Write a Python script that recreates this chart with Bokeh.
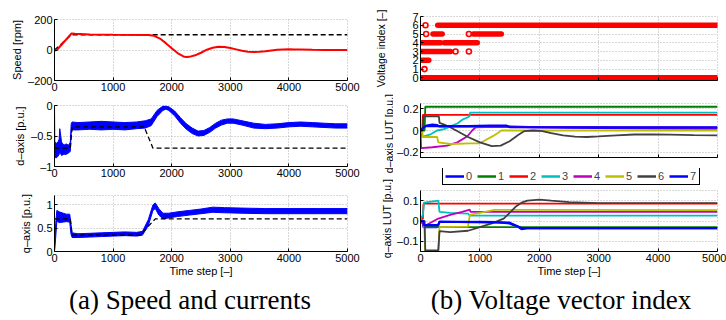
import math
from bokeh.plotting import figure
from bokeh.layouts import row, column
from bokeh.models import Range1d, FixedTicker, Legend, LegendItem, Div, CustomLabelingPolicy, Label
from bokeh.embed import file_html
from bokeh.resources import INLINE

FONT = "Liberation Sans"
SERIF = "Liberation Serif"

# ---------------- data ----------------
x_ticks = [0, 1000, 2000, 3000, 4000, 5000]
x_tick_labels = ["0", "1000", "2000", "3000", "4000", "5000"]

# (a) speed
speed_t = [0, 40, 290, 350, 600, 1000, 1600, 1700, 1800, 1900, 2000, 2100, 2200, 2250, 2300, 2400,
           2500, 2600, 2700, 2800, 2900, 3000, 3100, 3200, 3300, 3400, 3500, 3600, 3700, 3800, 3900,
           4000, 4100, 4200, 4400, 4600, 4800, 5000]
speed_v = [-3, 0, 108, 106, 102, 100, 99, 93, 75, 45, 12, -20, -42, -46, -45, -35,
           -18, 2, 15, 21, 20, 13, 4, -5, -11, -13, -12, -8, -3, 1, 4,
           5, 4, 3, 1, 0, 0, 0]
speed_ref_t = [0, 290, 5000]
speed_ref_v = [0, 100, 100]
speed_ticks = [-200, 0, 200]
speed_tick_labels = ["–200", "0", "200"]

# (a) d-axis current (noisy band: lower / upper envelope)
id_t = [0, 5, 30, 60, 80, 90, 100, 120, 160, 200, 240, 270, 285, 300, 400, 600, 800, 1000, 1200,
        1400, 1550, 1650, 1750, 1850, 1900, 1950, 2050, 2150, 2250, 2350, 2450, 2550, 2650, 2750,
        2850, 2950, 3050, 3200, 3400, 3600, 3800, 4000, 4200, 4400, 4600, 4800, 5000]
id_lo = [-0.8, -0.85, -0.86, -0.83, -0.8, -0.75, -0.78, -0.82, -0.8, -0.8, -0.78, -0.75, -0.45, -0.4,
         -0.4, -0.39, -0.4, -0.39, -0.4, -0.38, -0.37, -0.33, -0.18, -0.08, -0.06, -0.08, -0.17,
         -0.29, -0.39, -0.46, -0.5, -0.49, -0.44, -0.37, -0.32, -0.29, -0.29, -0.32, -0.37, -0.38,
         -0.37, -0.35, -0.34, -0.35, -0.36, -0.37, -0.37]
id_hi = [0.0, -0.6, -0.62, -0.6, -0.55, -0.38, -0.45, -0.6, -0.65, -0.63, -0.65, -0.6, -0.3, -0.27,
         -0.28, -0.27, -0.26, -0.27, -0.28, -0.27, -0.25, -0.22, -0.08, -0.01, -0.01, -0.02, -0.09,
         -0.2, -0.3, -0.37, -0.42, -0.41, -0.36, -0.29, -0.24, -0.22, -0.22, -0.25, -0.29, -0.31,
         -0.3, -0.28, -0.27, -0.28, -0.29, -0.3, -0.3]
id_ref_t = [0, 270, 300, 1530, 1680, 5000]
id_ref_v = [-0.7, -0.7, -0.35, -0.35, -0.7, -0.7]
id_ticks = [-1, -0.5, 0]
id_tick_labels = ["–1", "–0.5", "0"]

# (a) q-axis current
iq_t = [0, 20, 40, 80, 150, 200, 260, 280, 300, 400, 600, 800, 1000, 1200, 1400, 1500, 1600, 1680,
        1720, 1780, 1850, 1950, 2100, 2300, 2500, 2700, 2900, 3200, 3600, 4000, 4500, 5000]
iq_lo = [0.0, 0.3, 0.65, 0.62, 0.63, 0.64, 0.63, 0.38, 0.3, 0.3, 0.31, 0.32, 0.33, 0.34, 0.33, 0.35,
         0.55, 0.88, 0.92, 0.78, 0.7, 0.72, 0.75, 0.78, 0.81, 0.84, 0.83, 0.82, 0.81, 0.81, 0.81, 0.81]
iq_hi = [0.02, 0.6, 0.88, 0.85, 0.82, 0.8, 0.8, 0.6, 0.4, 0.38, 0.39, 0.4, 0.41, 0.42, 0.41, 0.43,
         0.68, 1.0, 1.04, 0.92, 0.82, 0.82, 0.85, 0.88, 0.91, 0.95, 0.94, 0.93, 0.92, 0.92, 0.92, 0.92]
iq_ref_t = [0, 270, 300, 1460, 1720, 5000]
iq_ref_v = [0.7, 0.7, 0.35, 0.35, 0.7, 0.7]
iq_ticks = [0, 0.5, 1]
iq_tick_labels = ["0", "0.5", "1"]

# (b) voltage vector index: dense runs and isolated samples
vi_run_index = [0, 6, 5, 5, 4, 4, 3, 2]
vi_run_start = [0, 290, 210, 890, 0, 400, 0, 0]
vi_run_end = [5000, 5000, 365, 1360, 340, 955, 505, 140]
vi_pt_t = [84, 95, 815, 590, 815, 67]
vi_pt_index = [6, 5, 5, 3, 3, 1]
vi_ticks = [0, 1, 2, 3, 4, 5, 6, 7]
vi_tick_labels = ["0", "1", "2", "3", "4", "5", "6", "7"]

# (b) d-axis LUT entries 0..7
lut_names = ["0", "1", "2", "3", "4", "5", "6", "7"]
lut_colors = ["#0000ff", "#008000", "#ff0000", "#00bfbf", "#bf00bf", "#bfbf00", "#404040", "#0000ff"]
d_lut_t = [
    [0, 50, 100, 200, 280, 320, 600, 1000, 1500, 2000, 2500, 3000, 4000, 5000],
    [0, 70, 80, 5000],
    [0, 30, 40, 5000],
    [0, 30, 40, 170, 280, 395, 535, 620, 705, 790, 820, 835, 5000],
    [0, 10, 200, 450, 620, 790, 870, 930, 1100, 2000, 3000, 5000],
    [0, 30, 40, 280, 300, 500, 830, 970, 1060, 1225, 1365, 5000],
    [0, 40, 50, 310, 320, 400, 500, 600, 800, 1000, 1200, 1350, 1500, 1650, 1750, 1900, 2050,
     2200, 2400, 2600, 2800, 3000, 3300, 3600, 3900, 4200, 4600, 5000],
    [0, 80, 300, 800, 1170, 1450, 1500, 5000],
]
d_lut_v = [
    [0, 0.03, 0.045, 0.055, 0.05, 0.037, 0.037, 0.037, 0.036, 0.03, 0.027, 0.024, 0.02, 0.018],
    [0, 0, 0.22, 0.22],
    [0, 0, 0.145, 0.145],
    [0, -0.056, -0.056, -0.035, 0.0, 0.013, 0.045, 0.065, 0.1, 0.12, 0.13, 0.165, 0.165],
    [0, -0.163, -0.155, -0.14, -0.11, -0.053, 0.0, 0.03, 0.032, 0.03, 0.03, 0.028],
    [0, 0, -0.06, -0.06, -0.11, -0.125, -0.12, -0.12, -0.1, -0.05, 0.0, 0.0],
    [0, 0, 0.13, 0.13, 0.07, 0.055, 0.03, 0.0, -0.06, -0.11, -0.145, -0.14, -0.1, -0.04, -0.005,
     0.0, -0.005, -0.025, -0.045, -0.057, -0.06, -0.055, -0.045, -0.037, -0.035, -0.038, -0.042, -0.045],
    [0, 0.04, 0.04, 0.04, 0.045, 0.045, 0.032, 0.03],
]
d_lut_ticks = [-0.2, 0, 0.2]
d_lut_tick_labels = ["–0.2", "0", "0.2"]

# (b) q-axis LUT entries 0..7
q_lut_t = [
    [0, 40, 50, 280, 320, 600, 1000, 1300, 1500, 1650, 1700, 1800, 2000, 5000],
    [0, 50, 60, 5000],
    [0, 40, 50, 5000],
    [0, 40, 60, 300, 320, 500, 800, 830, 5000],
    [0, 50, 100, 300, 500, 700, 830, 840, 5000],
    [0, 60, 80, 300, 320, 800, 830, 1000, 1250, 5000],
    [0, 70, 80, 300, 320, 500, 800, 1000, 1200, 1400, 1500, 1600, 1700, 1800, 2000, 2200, 2500,
     3000, 3500, 5000],
    [0, 50, 60, 300, 320, 1500, 1700, 5000],
]
q_lut_v = [
    [0, 0, -0.03, -0.03, -0.005, -0.005, -0.004, -0.006, -0.012, -0.03, -0.04, -0.035, -0.035, -0.035],
    [0, 0, -0.03, -0.03],
    [0.01, 0.01, 0.085, 0.085],
    [0.01, 0.03, 0.09, 0.1, 0.045, 0.04, 0.036, 0.026, 0.026],
    [0, -0.02, -0.02, 0.012, 0.03, 0.045, 0.056, 0.045, 0.045],
    [0, 0, -0.148, -0.148, -0.03, -0.028, 0.03, 0.04, 0.055, 0.053],
    [0, 0, -0.145, -0.145, -0.05, -0.055, -0.048, -0.03, -0.012, 0.012, 0.04, 0.07, 0.09, 0.1,
     0.105, 0.1, 0.093, 0.088, 0.088, 0.088],
    [0, 0, -0.02, -0.02, -0.003, -0.008, -0.035, -0.035],
]
q_lut_ticks = [-0.1, 0, 0.1]
q_lut_tick_labels = ["–0.1", "0", "0.1"]

right_ylabels = ["Voltage index [–]", "d–axis LUT [p.u.]", "q–axis LUT [p.u.]"]
captions = ["(a) Speed and currents", "(b) Voltage vector index"]


# ---------------- helpers ----------------
def make_fig(w, h, bl, br, bt, bb, yr, yticks, ylabels, ylabel=None, show_x=True, xlabel=None):
    p = figure(width=w, height=h, min_border_left=bl, min_border_right=br,
               min_border_top=bt, min_border_bottom=bb, title_location=None,
               x_range=Range1d(0, 5000), y_range=Range1d(*yr),
               toolbar_location=None, output_backend="svg")
    p.outline_line_color = "#b0b0b0"
    p.outline_line_dash = "1 2"
    p.background_fill_color = "white"
    p.border_fill_color = "white"
    p.xaxis.ticker = FixedTicker(ticks=x_ticks)
    p.yaxis.ticker = FixedTicker(ticks=yticks)
    p.xaxis.major_label_overrides = {t: s for t, s in zip(x_ticks, x_tick_labels)}
    p.yaxis.major_label_overrides = {t: s for t, s in zip(yticks, ylabels)}
    for ax in (p.xaxis[0], p.yaxis[0]):
        ax.axis_line_color = "black"
        ax.major_tick_line_color = "black"
        ax.major_tick_in = 3
        ax.major_tick_out = 0
        ax.minor_tick_line_color = None
        ax.major_label_text_font = FONT
        ax.major_label_text_font_size = "11px"
        ax.major_label_text_color = "black"
        ax.axis_label_text_font = FONT
        ax.axis_label_text_font_size = "11px"
        ax.axis_label_text_font_style = "normal"
        ax.axis_label_text_color = "black"
        ax.major_label_standoff = 2
        ax.axis_label_standoff = 2
    if ylabel:
        p.yaxis.axis_label = ylabel
    if xlabel:
        p.xaxis.axis_label = xlabel
        p.xaxis.axis_label_standoff = 0
    if not show_x:
        p.xaxis.major_label_policy = CustomLabelingPolicy(
            code="for (const i of indices) { indices.unset(i) }\nreturn indices")
        p.xaxis.major_label_standoff = 0
    for g in (p.xgrid[0], p.ygrid[0]):
        g.grid_line_color = "#b0b0b0"
        g.grid_line_dash = "1 2"
        g.grid_line_width = 1
    return p


def blank_fig(w, h, bl=0):
    f = figure(width=w, height=h, x_axis_type=None, y_axis_type=None,
               min_border_left=bl, min_border_right=0, min_border_top=0, min_border_bottom=0,
               title_location=None, toolbar_location=None,
               output_backend="svg", x_range=Range1d(0, 1), y_range=Range1d(0, 1))
    f.outline_line_color = None
    f.grid.visible = False
    f.background_fill_color = "white"
    f.border_fill_color = "white"
    return f


def caption_div(text, pad_left):
    return Div(text=('<div style="width:363px;box-sizing:border-box;padding-left:%dpx;'
                     'text-align:center;font-family:\'%s\';font-size:27px;line-height:40px;'
                     'color:black;white-space:nowrap;">%s</div>') % (pad_left, SERIF, text),
               width=363, height=40, margin=0)


# ---------------- left column ----------------
p1 = make_fig(363, 97, 54, 16, 19, 17, (-200, 200), speed_ticks, speed_tick_labels, "Speed [rpm]")
p1.line(speed_ref_t, speed_ref_v, line_color="black", line_dash="5 3", line_width=1.3)
p1.line(speed_t, speed_v, line_color="#ff0000", line_width=2)

p2 = make_fig(363, 86, 54, 16, 8, 17, (-1, 0), id_ticks, id_tick_labels, "d–axis [p.u.]")
p2.varea(x=id_t, y1=id_lo, y2=id_hi, fill_color="#0000ff")
p2.line(id_t, id_lo, line_color="#0000ff", line_width=1)
p2.line(id_t, id_hi, line_color="#0000ff", line_width=1)
p2.line(id_ref_t, id_ref_v, line_color="black", line_dash="5 3", line_width=1.3)

p3 = make_fig(363, 97, 54, 16, 12, 29, (0, 1.2), iq_ticks, iq_tick_labels, "q–axis [p.u.]",
              xlabel="Time step [–]")
p3.varea(x=iq_t, y1=iq_lo, y2=iq_hi, fill_color="#0000ff")
p3.line(iq_t, iq_lo, line_color="#0000ff", line_width=1)
p3.line(iq_t, iq_hi, line_color="#0000ff", line_width=1)
p3.line(iq_ref_t, iq_ref_v, line_color="black", line_dash="5 3", line_width=1.3)

cap_a = caption_div(captions[0], 17)

# ---------------- right column ----------------
RW = 333  # width of right plots (strip of 30px holds rotated axis titles)
p4 = make_fig(RW, 91, 27, 9, 16, 9, (-0.3, 7), vi_ticks, vi_tick_labels, show_x=False)
p4.segment(x0=vi_run_start, y0=vi_run_index, x1=vi_run_end, y1=vi_run_index,
           line_color="#ff0000", line_width=5.5, line_cap="round")
p4.scatter(vi_pt_t, vi_pt_index, marker="circle", size=5, fill_color=None,
           line_color="#ff0000", line_width=1.6)

p5 = make_fig(RW, 77, 27, 9, 12, 5, (-0.25, 0.25), d_lut_ticks, d_lut_tick_labels, show_x=False)
for name, col, tt, vv in zip(lut_names, lut_colors, d_lut_t, d_lut_v):
    p5.line(tt, vv, line_color=col, line_width=2.2 if name in ("0", "7") else 1.8)

# legend strip: proxy renderers hold no visible data, only the line style for the key
legfig = blank_fig(RW, 17, bl=27)
items = []
for name, col in zip(lut_names, lut_colors):
    r = legfig.line(x=[math.nan], y=[math.nan], line_color=col, line_width=2.5)
    items.append(LegendItem(label=name, renderers=[r]))
leg = Legend(items=items, orientation="horizontal", location=(22, 0),
             border_line_color="black", border_line_width=1.7, border_line_alpha=1,
             background_fill_color="white",
             background_fill_alpha=1, label_text_font=FONT, label_text_font_size="11px",
             glyph_width=19, glyph_height=12, label_height=12, label_width=7, label_standoff=2,
             spacing=4, padding=2, margin=0)
legfig.add_layout(leg, "center")

p6 = make_fig(RW, 95, 27, 9, 5, 29, (-0.15, 0.15), q_lut_ticks, q_lut_tick_labels,
              xlabel="Time step [–]")
for name, col, tt, vv in zip(lut_names, lut_colors, q_lut_t, q_lut_v):
    p6.line(tt, vv, line_color=col, line_width=2.2 if name in ("0", "7") else 1.8)

strip = blank_fig(30, 280)
for txt, sx, sy in zip(right_ylabels, [17, 25, 23], [232, 147, 62]):
    strip.add_layout(Label(x=sx, y=sy, x_units="screen", y_units="screen", text=txt,
                           angle=math.pi / 2, text_align="center", text_baseline="middle",
                           text_font=FONT, text_font_size="10.5px", text_color="black"))

cap_b = caption_div(captions[1], 33)

right = column(row(strip, column(p4, p5, legfig, p6, spacing=0), spacing=0), cap_b, spacing=0)
left = column(p1, p2, p3, cap_a, spacing=0)
layout = row(left, right, spacing=0)

open("out.html", "w").write(file_html(layout, INLINE))
